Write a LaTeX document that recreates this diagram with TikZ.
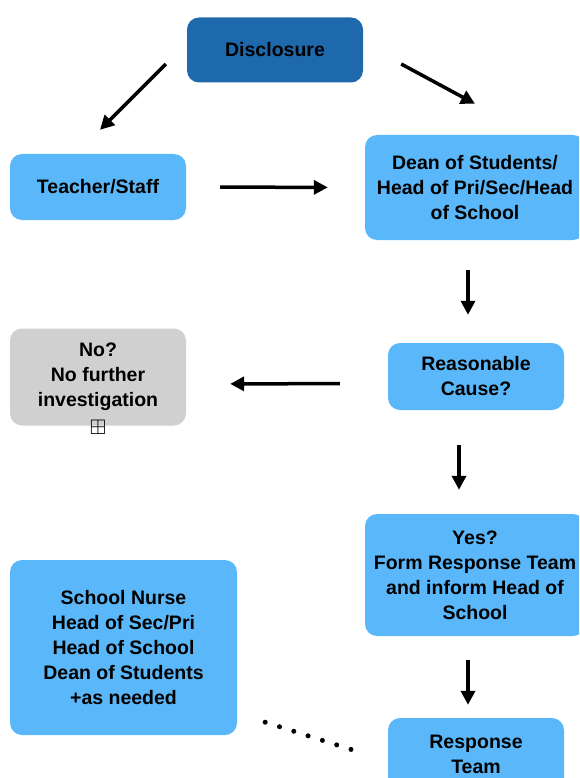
\documentclass[tikz,border=0pt]{standalone}
\usepackage{amssymb}
\usepackage{fontspec}
\setmainfont{Liberation Sans}
\usetikzlibrary{arrows.meta, positioning}
\definecolor{darkbox}{RGB}{30,104,172}
\definecolor{lightbox}{RGB}{90,184,250}
\definecolor{greybox}{RGB}{208,208,208}
\tikzset{
    block/.style={rectangle, fill=lightbox, rounded corners=12pt, align=center, inner sep=0pt, minimum width=176pt, minimum height=66pt},
    topblock/.style={block, fill=darkbox, minimum height=65pt},
    noblock/.style={block, fill=greybox, minimum height=97pt},
    line/.style={draw, line width=3.5pt, -{Triangle[length=14pt, width=14pt]}},
    dots/.style={draw, line width=5pt, line cap=round, dash pattern=on 0pt off 15pt},
    every node/.style={font=\fontsize{19.5}{25}\selectfont\bfseries}
}

\begin{document}
\begin{tikzpicture}[x=1pt, y=-1pt]

    \useasboundingbox (0,0) rectangle (579,778);
    \clip (0,0) rectangle (579,778);

    % Top of the chart
    \node [topblock] (disclosure) at (275,50) {Disclosure};
    \node [block] (teacher) at (98,187) {Teacher/Staff};
    \node [block, minimum width=220pt, minimum height=105pt] (dean) at (475,187.5) {Dean of Students/\\Head of Pri/Sec/Head\\of School};
    \draw [line] ([shift={(-21,14)}]disclosure.west) -- ([shift={(2,-24)}]teacher.north);
    \draw [line] ([shift={(38,14)}]disclosure.east) -- ([shift={(0,-31)}]dean.north);
    \draw [line, shorten <=34pt, shorten >=37pt] (teacher.east) -- (dean.west);

    % Cause or no cause
    \node [block, minimum height=67pt] (cause) at (476,376.5) {Reasonable\\Cause?};
    \node [noblock] (nofurther) at (98,377) {No?\\No further\\investigation};
    \node [inner sep=0pt, font=\fontsize{21}{21}\selectfont] (expand) at (98,427) {$\boxplus$};
    \draw [line, shorten <=30pt, shorten >=28pt] ([xshift=-7pt]dean.south) -- ([xshift=-8pt]cause.north);
    \draw [line, shorten <=48pt, shorten >=44pt] ([yshift=-7pt]cause.west) -- ([yshift=-7pt]nofurther.east);

    % Response team
    \node [block, minimum width=220pt, minimum height=122pt] (yes) at (475,575) {Yes?\\Form Response Team\\and inform Head of\\School};
    \node [block, minimum height=72pt] (team) at (476,754) {Response\\Team};
    \node [block, minimum width=227pt, minimum height=175pt] (members) at (123.5,647.5) {School Nurse\\Head of Sec/Pri\\Head of School\\Dean of Students\\+as needed};
    \draw [line, shorten <=35pt, shorten >=24pt] ([xshift=-17pt]cause.south) -- ([xshift=-16pt]yes.north);
    \draw [line, shorten <=24pt, shorten >=13pt] ([xshift=-7pt]yes.south) -- ([xshift=-8pt]team.north);
    \draw [dots] ([shift={(28,-13)}]members.south east) -- ([shift={(-35,-4)}]team.west);

\end{tikzpicture}
\end{document}
